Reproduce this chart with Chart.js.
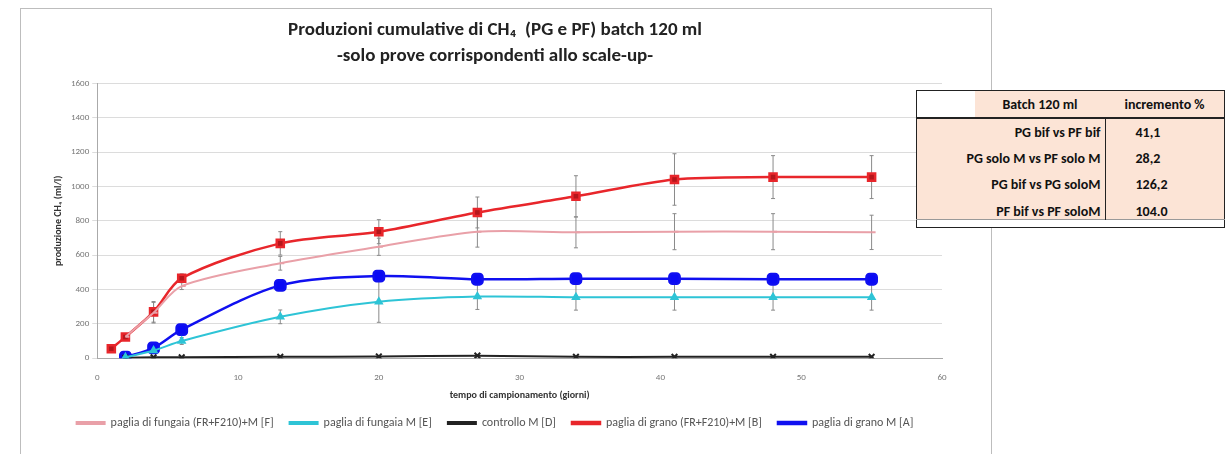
<!DOCTYPE html>
<html>
<head>
<meta charset="utf-8">
<script src="https://cdn.jsdelivr.net/npm/chart.js@4.4.0/dist/chart.umd.min.js"></script>
<style>
  body { margin: 0; background: #fff; width: 1228px; height: 454px; overflow: hidden; position: relative; }
  #frame { position: absolute; left: 20px; top: 8px; width: 972px; height: 460px; border: 1px solid #bdbdbd; box-sizing: border-box; }
  #wrap { position: absolute; left: 20px; top: 8px; width: 972px; height: 446px; }
  #tabella { position: absolute; left: 916px; top: 90px; width: 309px; border-collapse: collapse;
    font-family: Carlito, "Liberation Sans Narrow", "Open Sans", sans-serif; font-weight: bold; font-size: 14px; color: #111;
    border: 1px solid #222; background: #fff; }
  #tabella td { padding: 0; height: 26px; }
  #tabella .pesca { background: #fce4d6; }
</style>
</head>
<body>
<div id="frame"></div>
<div id="wrap"><canvas id="graficoCH4"></canvas></div>

<table id="tabella">
  <tr style="border-bottom: 2px solid #222;">
    <td style="width: 58px; height: 26px;"></td>
    <td class="pesca" style="text-align: center; width: 130px;">Batch 120 ml</td>
    <td class="pesca" style="text-align: center;">incremento %</td>
  </tr>
  <tr class="pesca"><td colspan="2" style="text-align: right; padding-right: 4px; border-right: 1px solid #222;">PG bif vs PF bif</td><td style="padding-left: 30px;">41,1</td></tr>
  <tr class="pesca"><td colspan="2" style="text-align: right; padding-right: 4px; border-right: 1px solid #222;">PG solo M vs PF solo M</td><td style="padding-left: 30px;">28,2</td></tr>
  <tr class="pesca"><td colspan="2" style="text-align: right; padding-right: 4px; border-right: 1px solid #222;">PG bif vs PG soloM</td><td style="padding-left: 30px;">126,2</td></tr>
  <tr class="pesca"><td colspan="2" style="text-align: right; padding-right: 4px; border-right: 1px solid #222; height: 22px; vertical-align: bottom; line-height: 15px; overflow: hidden;">PF bif vs PF soloM</td><td style="padding-left: 30px; height: 22px; vertical-align: bottom; line-height: 15px;">104.0</td></tr>
  <tr><td colspan="3" style="height: 7px; border-top: 1px solid #999;"></td></tr>
</table>

<script>
// giorni di campionamento
const giorni = [1, 2, 4, 6, 13, 20, 27, 34, 41, 48, 55];

// produzione cumulativa CH4 (ml/l) per prova
const grigliaY = [0, 200, 400, 600, 800, 1000, 1200, 1400, 1600];
const fungaiaBif = [null, 125, 265, 420, 553, 649, 737, 733, 737, 737, 733];   // [F]
const fungaiaM = [null, 5, 45, 100, 241, 329, 359, 355, 355, 355, 355];        // [E]
const controlloM = [null, 3, 5, 5, 8, 10, 15, 8, 8, 8, 8];                     // [D]
const granoBif = [55, 124, 270, 466, 669, 737, 849, 943, 1041, 1055, 1055];    // [B]
const granoM = [null, 6, 60, 166, 424, 478, 460, 463, 463, 460, 460];          // [A]

// deviazioni standard (barre di errore)
const errFungaiaBif = [0, 10, 60, 20, 40, 50, 90, 90, 105, 105, 100];
const errFungaiaM = [0, 5, 10, 20, 40, 120, 75, 75, 75, 75, 75];
const errControlloM = [0, 3, 3, 3, 3, 3, 3, 3, 3, 3, 3];
const errGranoBif = [10, 15, 60, 25, 68, 70, 90, 120, 150, 125, 125];
const errGranoM = [0, 5, 10, 15, 30, 20, 20, 20, 20, 20, 20];

function punti(valori) {
    return giorni.map((g, i) => ({ x: g, y: valori[i] }));
}

// plugin per disegnare le barre di errore usando le scale del grafico
const barreErrore = {
    id: 'barreErrore',
    beforeDatasetsDraw(chart) {
        const ctx = chart.ctx;
        const sx = chart.scales.x, sy = chart.scales.y;
        ctx.save();
        ctx.strokeStyle = '#8a8a8a';
        ctx.lineWidth = 1;
        chart.data.datasets.forEach(ds => {
            ds.data.forEach((p, i) => {
                const e = ds.errori[i];
                if (p.y === null || !e) return;
                const x = sx.getPixelForValue(p.x);
                const y1 = sy.getPixelForValue(p.y - e);
                const y2 = sy.getPixelForValue(p.y + e);
                ctx.beginPath();
                ctx.moveTo(x, y1); ctx.lineTo(x, y2);
                ctx.moveTo(x - 2, y1); ctx.lineTo(x + 2, y1);
                ctx.moveTo(x - 2, y2); ctx.lineTo(x + 2, y2);
                ctx.stroke();
            });
        });
        ctx.restore();
    }
};

const font = 'Carlito, "Liberation Sans Narrow", "Open Sans", sans-serif';

new Chart(document.getElementById('graficoCH4'), {
    type: 'line',
    data: {
        datasets: [
            {
                label: 'paglia di fungaia (FR+F210)+M [F]',
                data: punti(fungaiaBif), errori: errFungaiaBif,
                borderColor: '#e9a0a8', backgroundColor: '#e9a0a8',
                pointStyle: 'dash', pointRadius: 4, borderWidth: 2
            },
            {
                label: 'paglia di fungaia M [E]',
                data: punti(fungaiaM), errori: errFungaiaM,
                borderColor: '#2ec4d6', backgroundColor: '#2ec4d6',
                pointStyle: 'triangle', pointRadius: 3.5, borderWidth: 2
            },
            {
                label: 'controllo M [D]',
                data: punti(controlloM), errori: errControlloM,
                borderColor: '#222222', backgroundColor: '#222222',
                pointStyle: 'crossRot', pointRadius: 4, borderWidth: 2
            },
            {
                label: 'paglia di grano (FR+F210)+M [B]',
                data: punti(granoBif), errori: errGranoBif,
                borderColor: '#e8262b', backgroundColor: '#b5161b',
                pointStyle: 'rect', pointRadius: 5, borderWidth: 2.5
            },
            {
                label: 'paglia di grano M [A]',
                data: punti(granoM), errori: errGranoM,
                borderColor: '#1010f0', backgroundColor: '#0a0af5',
                pointStyle: 'rectRounded', pointRadius: 6, borderWidth: 2.5
            }
        ]
    },
    options: {
        responsive: true,
        maintainAspectRatio: false,
        animation: false,
        spanGaps: true,
        tension: 0.3,
        layout: { padding: { left: 28, right: 50, top: 0, bottom: 15 } },
        plugins: {
            title: {
                display: true,
                text: ['Produzioni cumulative di CH\u2084  (PG e PF) batch 120 ml', '-solo prove corrispondenti allo scale-up-'],
                font: { family: font, size: 19, weight: 'bold', lineHeight: 1.33 },
                color: '#222',
                padding: { top: 10, bottom: 15 }
            },
            legend: {
                position: 'bottom',
                labels: {
                    font: { family: font, size: 12 },
                    color: '#555',
                    boxWidth: 28,
                    boxHeight: 2,
                    padding: 16
                }
            },
            tooltip: { enabled: false }
        },
        scales: {
            x: {
                type: 'linear',
                min: 0, max: 60,
                ticks: { stepSize: 10, padding: 6, font: { family: font, size: 9 }, color: '#777' },
                grid: { display: false },
                border: { color: '#aaa' },
                title: { display: true, text: 'tempo di campionamento (giorni)', padding: 0, font: { family: font, size: 10, weight: 'bold' }, color: '#333' }
            },
            y: {
                min: grigliaY[0], max: grigliaY[grigliaY.length - 1],
                afterBuildTicks: scale => { scale.ticks = grigliaY.map(v => ({ value: v })); },
                ticks: { font: { family: font, size: 9 }, color: '#777', callback: v => String(v) },
                grid: { color: '#dcdcdc', tickLength: 5 },
                border: { color: '#aaa' },
                title: { display: true, text: 'produzione CH\u2084 (ml/l)', font: { family: font, size: 10, weight: 'bold' }, color: '#333' }
            }
        }
    },
    plugins: [barreErrore]
});
</script>
</body>
</html>
